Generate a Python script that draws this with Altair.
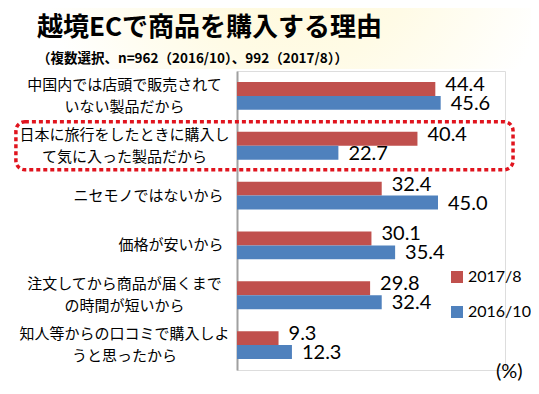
import altair as alt
import pandas as pd

categories = [
    "中国内では店頭で販売されて|いない製品だから",
    "日本に旅行をしたときに購入し|て気に入った製品だから",
    "ニセモノではないから",
    "価格が安いから",
    "注文してから商品が届くまで|の時間が短いから",
    "知人等からの口コミで購入しよ|うと思ったから",
]
series = ["2017/8", "2016/10"]
values_2017 = [44.4, 40.4, 32.4, 30.1, 29.8, 9.3]
values_2016 = [45.6, 22.7, 45.0, 35.4, 32.4, 12.3]
colors = ["#C0504D", "#4F81BD"]

title_text = "越境ECで商品を購入する理由"
subtitle_text = "（複数選択、n=962（2016/10）、992（2017/8））"
unit_text = "(%)"

highlight_cat = categories[1]
box_x0, box_x1 = -49.5, 61.8

rows = []
for c, a, b in zip(categories, values_2017, values_2016):
    rows.append({"cat": c, "series": series[0], "v": a})
    rows.append({"cat": c, "series": series[1], "v": b})
df = pd.DataFrame(rows)

JP = "Noto Sans CJK JP"
NUM = "Lato"

yscale = alt.Scale(domain=categories, paddingInner=0.44, paddingOuter=0.22)
xscale = alt.Scale(domain=[0, 60], nice=False)

multi = "indexof(datum.value, '|') >= 0"
yaxis = alt.Axis(
    title=None,
    ticks=False,
    grid=False,
    domainColor="#A0A0A0",
    domainWidth=2,
    labelFont=JP,
    labelFontSize=15,
    labelColor="#000000",
    labelLimit=0,
    labelLineHeight=22,
    labelBaseline="middle",
    labelExpr="split(datum.label, '|')",
    labelAlign={"condition": {"test": multi, "value": "center"}, "value": "right"},
    labelPadding={"condition": {"test": multi, "value": 113}, "value": 14},
    labelOffset={"condition": {"test": multi, "value": -11}, "value": 0},
)

base = alt.Chart(df)

bg = alt.Chart(pd.DataFrame({"a": [0]})).mark_rect(
    fill={
        "gradient": "radial",
        "x1": 0.55, "y1": 0.3, "r1": 0.0,
        "x2": 0.55, "y2": 0.3, "r2": 0.5,
        "stops": [
            {"offset": 0, "color": "#FFF9D6"},
            {"offset": 0.5, "color": "#FFFBE6"},
            {"offset": 1, "color": "#FFFFFF"},
        ],
    }
).encode(x=alt.value(-229), x2=alt.value(294), y=alt.value(-63), y2=alt.value(-2))

title = alt.Chart(pd.DataFrame({"t": [title_text]})).mark_text(
    align="left", baseline="alphabetic", font=JP, fontSize=26, fontWeight="bold", color="#000000"
).encode(text="t:N", x=alt.value(-200), y=alt.value(-35))

subtitle = alt.Chart(pd.DataFrame({"t": [subtitle_text]})).mark_text(
    align="left", baseline="alphabetic", font=JP, fontSize=13.5, fontWeight="bold", color="#000000"
).encode(text="t:N", x=alt.value(-200), y=alt.value(-8))

bars = base.mark_bar().encode(
    y=alt.Y("cat:N", sort=categories, scale=yscale, axis=yaxis),
    yOffset=alt.YOffset("series:N", sort=series),
    x=alt.X("v:Q", scale=xscale, axis=None),
    color=alt.Color(
        "series:N",
        scale=alt.Scale(domain=series, range=colors),
        legend=alt.Legend(
            orient="none",
            legendX=212,
            legendY=198,
            title=None,
            symbolType="square",
            symbolSize=144,
            symbolStrokeWidth=0,
            labelFont=NUM,
            labelFontSize=16,
            labelColor="#000000",
            labelLimit=0,
            rowPadding=19,
            labelOffset=3,
            padding=0,
        ),
    ),
)

def labels(s, dy):
    return base.transform_filter(alt.datum.series == s).mark_text(
        align="left", baseline="middle", dx=10, dy=dy, font=NUM, fontSize=20, color="#000000"
    ).encode(
        y=alt.Y("cat:N", sort=categories, scale=yscale),
        yOffset=alt.YOffset("series:N", sort=series),
        x=alt.X("v:Q", scale=xscale),
        text=alt.Text("v:Q", format=".1f"),
    )

lab1 = labels(series[0], -4)
lab2 = labels(series[1], 1)

box = alt.Chart(pd.DataFrame({"cat": [highlight_cat], "x0": [box_x0], "x1": [box_x1]})).mark_rect(
    filled=False,
    stroke="#E0141E",
    strokeWidth=3.5,
    strokeDash=[4, 3],
    cornerRadius=9,
    height={"band": 1.72},
).encode(
    y=alt.Y("cat:N", sort=categories, scale=yscale),
    x=alt.X("x0:Q", scale=xscale),
    x2="x1:Q",
)

unit = alt.Chart(pd.DataFrame({"t": [unit_text]})).mark_text(
    align="left", baseline="middle", font=NUM, fontSize=20, color="#000000"
).encode(text="t:N", x=alt.value(259), y=alt.value(301))

chart = alt.layer(bg, title, subtitle, bars, lab1, lab2, box, unit).properties(
    width=268,
    height=299,
    padding={"left": 229, "top": 63, "right": 26, "bottom": 24},
    autosize="none",
).configure_view(stroke=None).configure(background="#FFFFFF")

chart.save("out.html", embed_options={"renderer": "svg", "actions": False})
